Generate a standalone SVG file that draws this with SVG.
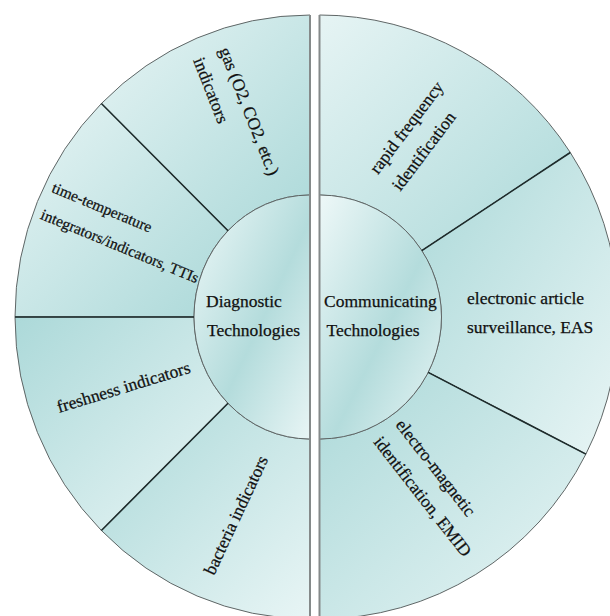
<svg xmlns="http://www.w3.org/2000/svg" width="610" height="616" viewBox="0 0 610 616">
<defs>
<linearGradient id="gA" x1="0" y1="0" x2="1" y2="1"><stop offset="0" stop-color="#e6f4f4"/><stop offset="1" stop-color="#acd9d9"/></linearGradient>
<linearGradient id="gB" x1="0" y1="0" x2="1" y2="1"><stop offset="0" stop-color="#acd9d9"/><stop offset="1" stop-color="#e8f5f5"/></linearGradient>
<linearGradient id="gI" x1="0" y1="0" x2="1" y2="1"><stop offset="0" stop-color="#eef8f8"/><stop offset="0.55" stop-color="#b4dcdc"/><stop offset="1" stop-color="#e8f5f5"/></linearGradient>
<style>
.t{font-family:"Liberation Serif","Times New Roman",serif;font-size:17.5px;fill:#111;stroke:#111;stroke-width:0.25}
.s{font-size:15.5px}
.edge{stroke:#5f6666;stroke-width:1}
.div{fill:none;stroke:#1e2c2c;stroke-width:1.6}
.vl{fill:none;stroke:#858a8a;stroke-width:2}
</style>
</defs>
<rect width="610" height="616" fill="#ffffff"/>
<g id="node-gas">
<path d="M310,195 L310,15 A295,302 0 0,0 101.4,103.5 L228,230.7 A116,122 0 0,1 310,195 Z" fill="url(#gA)" class="edge"/>
<text class="t" transform="translate(219,50) rotate(68.5)"><tspan x="0" y="0">gas (O2, CO2, etc.)</tspan><tspan x="0" y="28">indicators</tspan></text>
</g>
<g id="node-tti">
<path d="M228,230.7 L101.4,103.5 A295,302 0 0,0 15,317 L194,317 A116,122 0 0,1 228,230.7 Z" fill="url(#gA)" class="edge"/>
<text class="t s" transform="translate(50.7,191.7) rotate(22.5)"><tspan x="0" y="0">time-temperature</tspan><tspan x="0" y="29">integrators/indicators, TTIs</tspan></text>
</g>
<g id="node-freshness">
<path d="M194,317 L15,317 A295,302 0 0,0 101.4,530.5 L228,403.3 A116,122 0 0,1 194,317 Z" fill="url(#gB)" class="edge"/>
<text class="t" transform="translate(59,413) rotate(-17)">freshness indicators</text>
</g>
<g id="node-bacteria">
<path d="M228,403.3 L101.4,530.5 A295,302 0 0,0 310,619 L310,439 A116,122 0 0,1 228,403.3 Z" fill="url(#gB)" class="edge"/>
<text class="t" transform="translate(214,576) rotate(-65)">bacteria indicators</text>
</g>
<g id="node-diagnostic">
<path d="M310,195 A116,122 0 0,0 310,439 Z" fill="url(#gI)" class="edge"/>
<text class="t"><tspan x="206" y="307">Diagnostic</tspan><tspan x="207" y="336">Technologies</tspan></text>
</g>
<g id="node-rfid">
<path d="M319.5,195 L319.5,15 A299,302 0 0,1 570.3,152.5 L421.8,250.6 A122,122 0 0,0 319.5,195 Z" fill="url(#gA)" class="edge"/>
<text class="t" transform="translate(378,175) rotate(-53)"><tspan x="0" y="0">rapid frequency</tspan><tspan x="0" y="28">identification</tspan></text>
</g>
<g id="node-eas">
<path d="M421.8,250.6 L570.3,152.5 A299,302 0 0,1 585.9,454.1 L428.2,372.4 A122,122 0 0,0 421.8,250.6 Z" fill="url(#gB)" class="edge"/>
<text class="t"><tspan x="467" y="304">electronic article</tspan><tspan x="467" y="333">surveillance, EAS</tspan></text>
</g>
<g id="node-emid">
<path d="M428.2,372.4 L585.9,454.1 A299,302 0 0,1 319.5,619 L319.5,439 A122,122 0 0,0 428.2,372.4 Z" fill="url(#gB)" class="edge"/>
<text class="t" transform="translate(395,425) rotate(52)"><tspan x="0" y="0">electro-magnetic</tspan><tspan x="0" y="28">identification, EMID</tspan></text>
</g>
<g id="node-communicating">
<path d="M319.5,195 A122,122 0 0,1 319.5,439 Z" fill="url(#gI)" class="edge"/>
<text class="t"><tspan x="324" y="307">Communicating</tspan><tspan x="326.5" y="336">Technologies</tspan></text>
</g>
<g id="connectors">
<line class="div" x1="101.4" y1="103.5" x2="228" y2="230.7"/>
<line class="div" x1="15" y1="317" x2="194" y2="317"/>
<line class="div" x1="101.4" y1="530.5" x2="228" y2="403.3"/>
<line class="div" x1="570.3" y1="152.5" x2="421.8" y2="250.6"/>
<line class="div" x1="585.9" y1="454.1" x2="428.2" y2="372.4"/>
<line class="vl" x1="310" y1="15" x2="310" y2="616"/>
<line class="vl" x1="319.5" y1="15" x2="319.5" y2="616"/>
</g>
</svg>
